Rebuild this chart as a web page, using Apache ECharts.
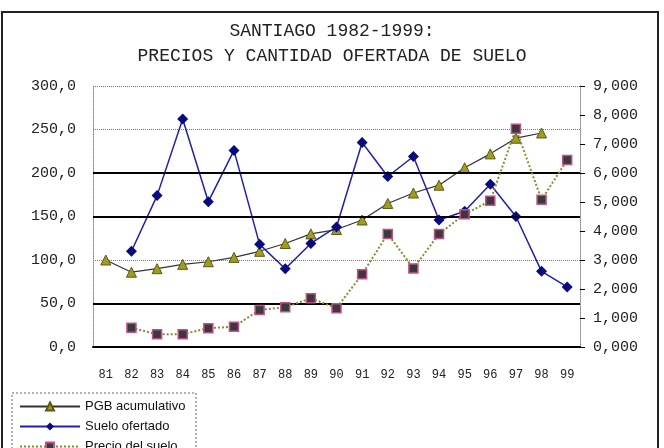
<!DOCTYPE html>
<html>
<head>
<meta charset="utf-8">
<script src="https://cdn.jsdelivr.net/npm/echarts@6/dist/echarts.min.js"></script>
<style>
  html, body { margin: 0; padding: 0; background: #fff; }
  #chart { width: 664px; height: 448px; }
</style>
</head>
<body>
<div id="chart"></div>
<script>
// Santiago 1982-1999: precios y cantidad ofertada de suelo
const years = ['81', '82', '83', '84', '85', '86', '87', '88', '89', '90',
  '91', '92', '93', '94', '95', '96', '97', '98', '99']

// eje izquierdo
const pgbAcumulativo = [100, 86, 90, 95, 98, 103, 110, 119, 130, 135,
  146, 165, 177, 186, 206, 222, 240, 246, null]
const sueloOfertado = [null, 110, 174, 262, 167, 226, 118, 90, 119, 138,
  235, 196, 219, 146, 156, 187, 150, 87, 69]

// eje derecho
const precioSuelo = [null, 660, 440, 440, 650, 700, 1280, 1370, 1680, 1340,
  2510, 3900, 2710, 3900, 4580, 5040, 7530, 5080, 6450]

// lineas gruesas del fondo (eje izquierdo)
const solidGrid = [50, 150, 200]

const chart = echarts.init(document.getElementById('chart'))

const mono = 'Liberation Mono'

const option = {
  animation: false,
  title: {
    text: 'SANTIAGO 1982-1999:\nPRECIOS Y CANTIDAD OFERTADA DE SUELO',
    left: 'center',
    top: 14,
    textStyle: {
      fontFamily: mono,
      fontSize: 18,
      fontWeight: 'normal',
      color: '#222',
      lineHeight: 25
    }
  },
  legend: {
    orient: 'vertical',
    left: 14,
    top: 395,
    height: 90,
    itemWidth: 60,
    itemHeight: 10,
    itemGap: 7,
    textStyle: { fontFamily: 'Liberation Sans', fontSize: 13, color: '#111' },
    data: ['PGB acumulativo', 'Suelo ofertado', 'Precio del suelo']
  },
  grid: { left: 93, right: 84, top: 86, bottom: 101 },
  xAxis: {
    type: 'category',
    data: years,
    boundaryGap: true,
    axisLine: { lineStyle: { color: '#000', width: 2 } },
    axisTick: { length: 5, lineStyle: { color: '#000', width: 1.5 } },
    axisLabel: { margin: 22, fontFamily: mono, fontSize: 12, color: '#222' }
  },
  yAxis: [
    {
      type: 'value',
      min: 0,
      max: 300,
      interval: 50,
      axisLine: { show: true, lineStyle: { color: '#888', type: 'dotted' } },
      axisTick: { show: false },
      axisLabel: {
        margin: 17,
        fontFamily: mono,
        fontSize: 15,
        color: '#222',
        formatter: (v) => v.toFixed(1).replace('.', ',')
      },
      splitLine: { lineStyle: { color: '#777', type: 'dotted' } }
    },
    {
      type: 'value',
      min: 0,
      max: 9000,
      interval: 1000,
      position: 'right',
      axisLine: { show: true, lineStyle: { color: '#888', type: 'dotted' } },
      axisTick: { show: true, length: 5, lineStyle: { color: '#000' } },
      axisLabel: {
        margin: 13,
        fontFamily: mono,
        fontSize: 15,
        color: '#222',
        formatter: (v) => (v / 1000).toFixed(3).replace('.', ',')
      },
      splitLine: { show: false }
    }
  ],
  series: [
    {
      name: 'PGB acumulativo',
      type: 'line',
      yAxisIndex: 0,
      data: pgbAcumulativo,
      symbol: 'triangle',
      symbolSize: 10,
      itemStyle: { color: '#a09c20', borderColor: '#5c5a10', borderWidth: 1 },
      lineStyle: { color: '#333', width: 1.2 },
      markLine: {
        silent: true,
        symbol: 'none',
        label: { show: false },
        lineStyle: { color: '#000', width: 2, type: 'solid' },
        data: solidGrid.map((v) => ({ yAxis: v }))
      },
      z: 3
    },
    {
      name: 'Suelo ofertado',
      type: 'line',
      yAxisIndex: 0,
      data: sueloOfertado,
      symbol: 'diamond',
      symbolSize: 11,
      itemStyle: { color: '#0a0a80' },
      lineStyle: { color: '#2020b0', width: 1.5 },
      z: 4
    },
    {
      name: 'Precio del suelo',
      type: 'line',
      yAxisIndex: 1,
      data: precioSuelo,
      symbol: 'rect',
      symbolSize: 9,
      itemStyle: { color: '#3a3a3a', borderColor: '#c0508a', borderWidth: 1.5 },
      lineStyle: { color: '#8a8a30', width: 2, type: 'dotted' },
      z: 5
    }
  ],
  graphic: [
    {
      type: 'rect',
      silent: true,
      shape: { x: 2, y: 12, width: 656, height: 450 },
      style: { fill: 'none', stroke: '#222', lineWidth: 2 }
    },
    {
      type: 'rect',
      silent: true,
      shape: { x: 12, y: 393, width: 184, height: 70 },
      style: { fill: 'none', stroke: '#666', lineWidth: 1, lineDash: [2, 2] }
    }
  ]
}

chart.setOption(option)
</script>
</body>
</html>
